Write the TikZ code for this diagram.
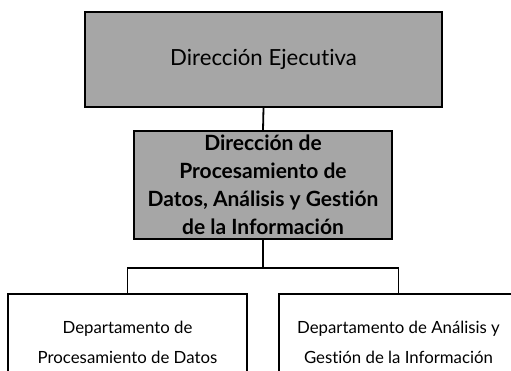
\documentclass[tikz,border=0pt]{standalone}
\usepackage{fontspec}
\setmainfont{Lato}[Ligatures={NoCommon}]
\begin{document}
\begin{tikzpicture}[x=1pt,y=-1pt,
  box/.style={draw=black, line width=1.8pt, align=center, inner sep=0pt},
  graybox/.style={box, fill=boxgray},
  whitebox/.style={box, fill=white},
  conn/.style={draw=black, line width=1.8pt}]
\definecolor{boxgray}{HTML}{A6A6A6}
\useasboundingbox (0,0) rectangle (511,371);
\clip (0,0) rectangle (511,371);
\node[graybox, minimum width=357pt, minimum height=95pt, font=\fontsize{22.2}{26}\selectfont] (top) at (263.5,59.5) {Dirección Ejecutiva};
\node[graybox, minimum width=258pt, minimum height=108pt, font=\bfseries\fontsize{21}{28}\selectfont] (mid) at (263,185) {Dirección de\\Procesamiento de\\Datos, Análisis y Gestión\\de la Información};
\node[whitebox, minimum width=239pt, minimum height=96pt, font=\fontsize{16.8}{30}\selectfont] (left) at (127.5,342) {Departamento de\\Procesamiento de Datos};
\node[whitebox, minimum width=239pt, minimum height=96pt, font=\fontsize{16.8}{30}\selectfont] (right) at (398.5,342) {Departamento de Análisis y\\Gestión de la Información};
\coordinate (bar) at (263,268);
\draw[conn] (top.south) -- (mid.north);
\draw[conn] (mid.south) -- (bar) -| (left.north);
\draw[conn] (bar) -| (right.north);
\end{tikzpicture}
\end{document}
